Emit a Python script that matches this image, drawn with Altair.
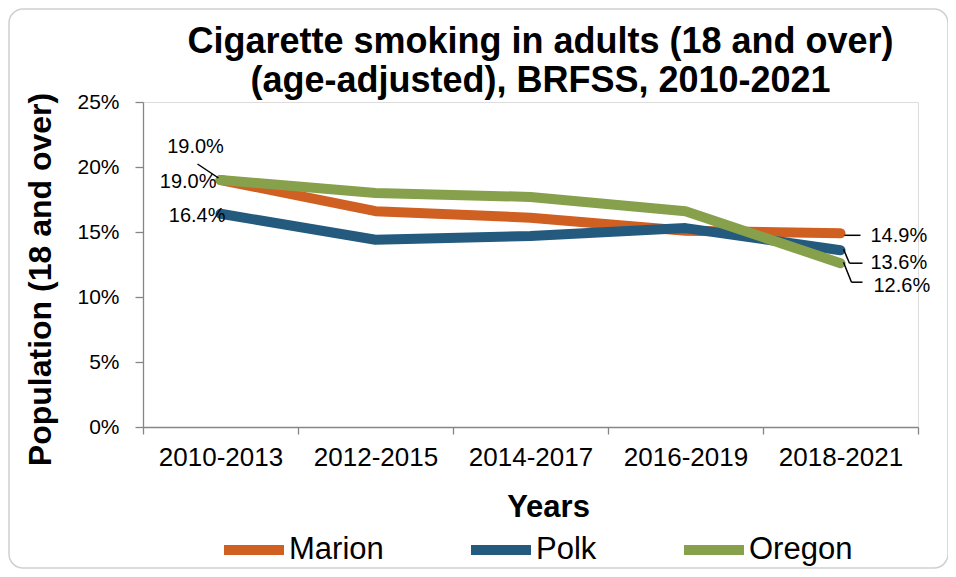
import altair as alt
import pandas as pd

categories = ["2010-2013", "2012-2015", "2014-2017", "2016-2019", "2018-2021"]
series_names = ["Marion", "Polk", "Oregon"]
marion = [19.0, 16.6, 16.1, 15.1, 14.9]
polk = [16.4, 14.4, 14.7, 15.3, 13.6]
oregon = [19.0, 18.0, 17.7, 16.6, 12.6]
colors = ["#D05F22", "#245A7E", "#86A04B"]
y_ticks = [0, 5, 10, 15, 20, 25]

rows = []
for name, vals in zip(series_names, [marion, polk, oregon]):
    for c, v in zip(categories, vals):
        rows.append({"series": name, "period": c, "value": v})
df = pd.DataFrame(rows)

W, H = 775, 325
FONT = "Liberation Sans"

color_scale = alt.Scale(domain=series_names, range=colors)
x_scale = alt.Scale(type="band", domain=categories, paddingInner=0, paddingOuter=0)
y_scale = alt.Scale(domain=[0, 25], nice=False)

x_axis = alt.Axis(tickBand="extent", labelAngle=0, orient="bottom", grid=False,
                  domainColor="#868686", tickColor="#868686",
                  tickSize=7, domainWidth=1.3, tickWidth=1.3,
                  labelFont=FONT, labelFontSize=26, labelColor="#000000", labelPadding=10,
                  title="Years", titleFont=FONT, titleFontSize=31, titleFontWeight="bold",
                  titleColor="#000000", titleX=405, titleY=80, titleBaseline="middle",
                  titleAlign="center")
y_axis = alt.Axis(values=y_ticks, labelExpr="datum.value + '%'", grid=False,
                  domainColor="#868686", tickColor="#868686", tickSize=8, domainWidth=1.3,
                  tickWidth=1.3, labelFont=FONT, labelFontSize=21, labelColor="#000000",
                  labelPadding=16, title="Population (18 and over)", titleFont=FONT,
                  titleFontSize=32, titleFontWeight="bold", titleColor="#000000",
                  titleX=-103, titleY=177, titleAlign="center", titleBaseline="middle")

X = alt.X("period:N", scale=x_scale, axis=x_axis, bandPosition=0.5, sort=categories)
Y = alt.Y("value:Q", scale=y_scale, axis=y_axis)

base = alt.Chart(df)

legend = alt.Legend(title=None, orient="none", legendX=76, legendY=413, direction="horizontal",
                    symbolType="stroke", symbolStrokeWidth=10, symbolSize=3600,
                    labelFont=FONT, labelFontSize=31, labelColor="#000000", labelOffset=0,
                    columnPadding=67, symbolOffset=0)

lines = []
for name in series_names:
    lines.append(
        base.transform_filter(alt.datum.series == name)
        .mark_line(strokeWidth=10, strokeCap="round", strokeJoin="round")
        .encode(x=X, y=Y,
                color=alt.Color("series:N", scale=color_scale, legend=legend))
    )

first, last = categories[0], categories[-1]
# data labels: (series, period, dx, dy, align)
label_specs = [
    ("Oregon", first, -25, -33, "center"),
    ("Marion", first, -4, 2, "right"),
    ("Polk", first, 5, 2, "right"),
    ("Marion", last, 30, 3, "left"),
    ("Polk", last, 30, 13, "left"),
    ("Oregon", last, 33, 23, "left"),
]
texts = []
for name, p, dx, dy, align in label_specs:
    texts.append(
        base.transform_filter((alt.datum.series == name) & (alt.datum.period == p))
        .transform_calculate(lbl="format(datum.value, '.1f') + '%'")
        .mark_text(font=FONT, fontSize=20, color="#000000", dx=dx, dy=dy, align=align,
                   baseline="middle")
        .encode(x=X, y=Y, text="lbl:N")
    )

# leader line segments: (series, period, x1off, y1off, x2off, y2off)
leader_specs = [
    ("Oregon", first, -2, -2, -23, -16),
    ("Marion", last, 4, 2, 20, 2),
    ("Polk", last, 3, -1, 9, 13),
    ("Polk", last, 9, 13, 22, 13),
    ("Oregon", last, 3, -1, 11, 19),
    ("Oregon", last, 11, 19, 22, 19),
]
leaders = []
for name, p, x1, y1, x2, y2 in leader_specs:
    leaders.append(
        base.transform_filter((alt.datum.series == name) & (alt.datum.period == p))
        .mark_rule(color="#000000", strokeWidth=1.5, xOffset=x1, yOffset=y1,
                   x2Offset=x2, y2Offset=y2)
        .encode(x=X, y=Y, x2=alt.X2("period:N", bandPosition=0.5), y2="value:Q")
    )

frame = alt.Chart(pd.DataFrame({"a": [0]})).mark_rect(
    fill="#ffffff", fillOpacity=0, stroke="#d0d0d0", strokeWidth=1.5, cornerRadius=14,
    clip=False
).encode(x=alt.value(-134), x2=alt.value(805), y=alt.value(-93), y2=alt.value(466))

chart = alt.layer(*lines, *leaders, *texts, frame).properties(
    width=W, height=H,
    title=alt.TitleParams(
        text=["Cigarette smoking in adults (18 and over)", "(age-adjusted), BRFSS, 2010-2021"],
        font=FONT, fontSize=36, fontWeight="bold", color="#000000", anchor="middle",
        dx=10, dy=92, offset=0, lineHeight=39,
    ),
    autosize=alt.AutoSizeParams(type="none"),
    padding={"left": 135, "top": 94, "right": 30, "bottom": 142},
).configure_view(stroke=None).configure(background="white")

chart.save("out.html", embed_options={"renderer": "svg", "actions": False})
